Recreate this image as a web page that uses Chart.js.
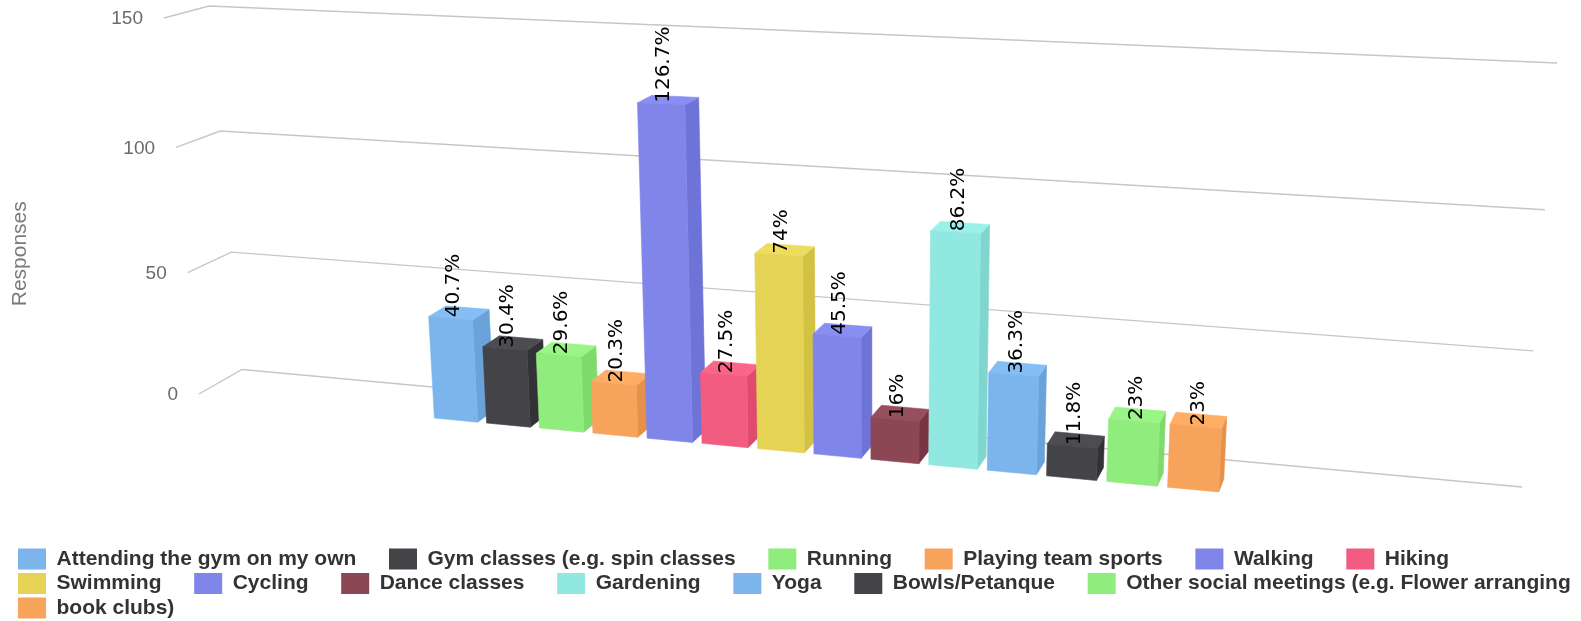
<!DOCTYPE html>
<html>
<head>
<meta charset="utf-8">
<style>
html,body{margin:0;padding:0;background:#fff}
canvas{display:block;filter:blur(0.6px)}
</style>
<script src="https://cdn.jsdelivr.net/npm/chart.js@4/dist/chart.umd.js"></script>
</head>
<body>
<canvas id="c" width="1581" height="621"></canvas>
<script>
const categories = ["Attending the gym on my own","Gym classes (e.g. spin classes","Running","Playing team sports","Walking","Hiking","Swimming","Cycling","Dance classes","Gardening","Yoga","Bowls/Petanque","Other social meetings (e.g. Flower arranging","book clubs)"];
const responses = [40.7,30.4,29.6,20.3,126.7,27.5,74,45.5,16,86.2,36.3,11.8,23,23];
const barColors = ["#7cb5ec","#434348","#90ed7d","#f7a35c","#8085e9","#f15c80","#e4d354","#8085e9","#8d4653","#91e8e1","#7cb5ec","#434348","#90ed7d","#f7a35c"];
const yTickStep = 50, yMax = 150;

// perspective planes: unit square (along x axis, up y axis) -> screen quad
function quad(p0,p1,p2,p3){
  const dx1=p1[0]-p2[0],dx2=p3[0]-p2[0],sx=p0[0]-p1[0]+p2[0]-p3[0];
  const dy1=p1[1]-p2[1],dy2=p3[1]-p2[1],sy=p0[1]-p1[1]+p2[1]-p3[1];
  const den=dx1*dy2-dx2*dy1;
  const g=(sx*dy2-dx2*sy)/den,h=(dx1*sy-sx*dy1)/den;
  const a=p1[0]-p0[0]+g*p1[0],b=p3[0]-p0[0]+h*p3[0],c=p0[0];
  const d=p1[1]-p0[1]+g*p1[1],e=p3[1]-p0[1]+h*p3[1],f=p0[1];
  return (u,v)=>{const w=g*u+h*v+1;return [(a*u+b*v+c)/w,(d*u+e*v+f)/w];};
}
const wallPlane  = quad([242,369.5],[1522,487],[1557,63],[209,6]);
const frontPlane = quad([430,417.7],[1224,492.5],[1244,59],[408,30]);
const backPlane  = quad([447,405.7],[1229,479.5],[1249,52.5],[426,23.5]);
const stubBottom=[199,394], stubTop=[164,18];

let area=null;
const U=x=>{const u=(x-area.left)/(area.right-area.left);return u+0.025*u*(1-u);};
const V=y=>(area.bottom-y)/(area.bottom-area.top);

function shade(hex,k){
  const n=parseInt(hex.slice(1),16);
  const ch=s=>Math.max(0,Math.min(255,((n>>s)&255)+Math.round(255*k)));
  return `rgb(${ch(16)},${ch(8)},${ch(0)})`;
}
function poly(ctx,pts,color){
  ctx.beginPath();
  pts.forEach((p,i)=>i?ctx.lineTo(p[0],p[1]):ctx.moveTo(p[0],p[1]));
  ctx.closePath();
  ctx.fillStyle=color;ctx.strokeStyle=color;ctx.lineWidth=0.6;ctx.lineJoin='round';
  ctx.fill();ctx.stroke();
}
Chart.BarElement.prototype.draw=function(ctx){
  const {x,y,base,width,options}=this;
  const c=options.backgroundColor;
  const l=U(x-width/2),r=U(x+width/2),t=V(y),b=V(base);
  ctx.save();
  poly(ctx,[frontPlane(r,t),backPlane(r,t),backPlane(r,b),frontPlane(r,b)],shade(c,-0.07));
  poly(ctx,[frontPlane(l,t),frontPlane(r,t),backPlane(r,t),backPlane(l,t)],shade(c,0.035));
  poly(ctx,[frontPlane(l,t),frontPlane(r,t),frontPlane(r,b),frontPlane(l,b)],c);
  ctx.restore();
};

const perspective={
  id:'perspective',
  afterLayout(chart){
    area=chart.chartArea;
    const lg=chart.legend;
    lg.left=14.5; lg.top+=37.5; lg.bottom+=37.5;
  },
  beforeDatasetsDraw(chart){
    const ctx=chart.ctx, ys=chart.scales.y;
    ctx.save();
    ctx.font='19px "Liberation Sans"';ctx.textAlign='right';ctx.textBaseline='middle';
    ys.ticks.forEach(tk=>{
      const v=V(ys.getPixelForValue(tk.value));
      const a=wallPlane(0,v),e=wallPlane(1,v);
      const t=(wallPlane(0,0)[1]-a[1])/(wallPlane(0,0)[1]-wallPlane(0,1)[1]);
      const s=[stubBottom[0]+(stubTop[0]-stubBottom[0])*t,stubBottom[1]+(stubTop[1]-stubBottom[1])*t];
      ctx.beginPath();ctx.moveTo(s[0],s[1]);ctx.lineTo(a[0],a[1]);ctx.lineTo(e[0],e[1]);
      ctx.strokeStyle='#c6c6c6';ctx.lineWidth=1.4;ctx.stroke();
      ctx.fillStyle='#6b6b6b';
      ctx.fillText(String(tk.value),s[0]-21,s[1]+1);
    });
    ctx.restore();
  },
  afterDatasetsDraw(chart){
    const ctx=chart.ctx, meta=chart.getDatasetMeta(0);
    ctx.save();
    ctx.font='20px "DejaVu Sans"';ctx.fillStyle='#000';ctx.textAlign='left';ctx.textBaseline='middle';
    meta.data.forEach((el,i)=>{
      const p=frontPlane(U(el.x),V(el.y));
      ctx.save();
      ctx.translate(p[0]+3,p[1]-1);
      ctx.rotate(-Math.PI/2);
      ctx.fillText(responses[i]+'%',0,0);
      ctx.restore();
    });
    ctx.restore();
  }
};

new Chart(document.getElementById('c'),{
  type:'bar',
  data:{labels:categories,datasets:[{label:'Responses',data:responses,backgroundColor:barColors,categoryPercentage:1,barPercentage:0.83}]},
  options:{
    responsive:false,animation:false,
    layout:{padding:{left:0,right:0,top:0,bottom:30}},
    scales:{
      x:{display:false},
      y:{min:0,max:yMax,ticks:{stepSize:yTickStep,display:false},grid:{display:false},border:{display:false},
         title:{display:true,text:'Responses',color:'#7a7a7a',font:{family:'"Liberation Sans"',size:21},padding:{top:8,bottom:0}}}
    },
    plugins:{
      tooltip:{enabled:false},
      legend:{
        position:'bottom',align:'start',
        labels:{
          boxWidth:28,boxHeight:21,padding:3.5,color:'#333',
          font:{family:'"Liberation Sans"',size:21,weight:'bold'},
          generateLabels:ch=>ch.data.labels.map((t,i)=>({
            text:i===12?t:t+'     ',fillStyle:barColors[i],strokeStyle:barColors[i],lineWidth:0,fontColor:'#333',index:i,hidden:false
          }))
        }
      }
    }
  },
  plugins:[perspective]
});
</script>
</body>
</html>
